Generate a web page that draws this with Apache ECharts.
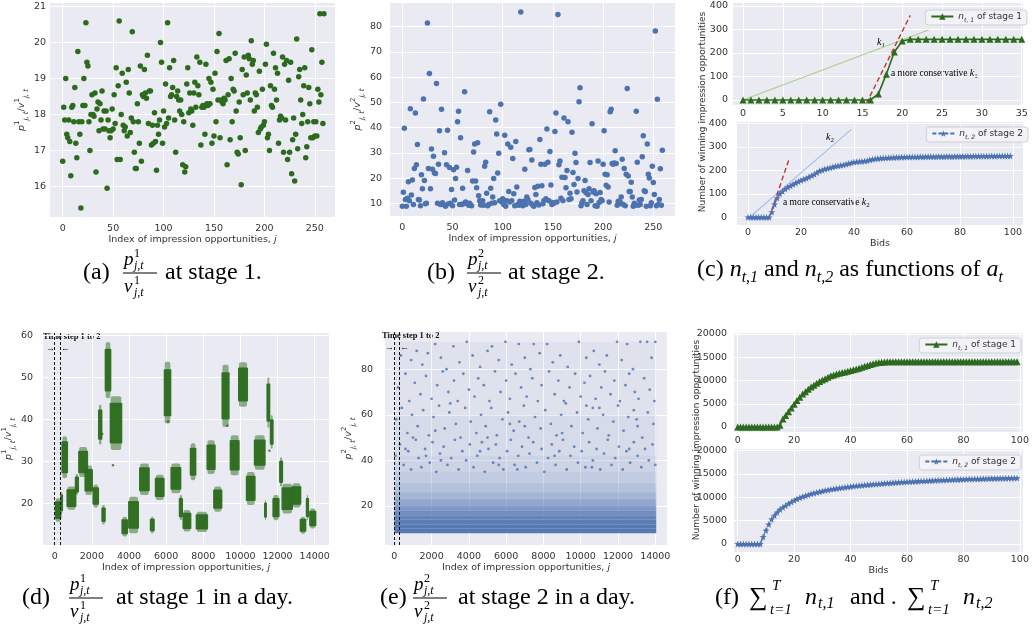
<!DOCTYPE html>
<html>
<head>
<meta charset="utf-8">
<title>winning impressions</title>
<style>
  html, body { margin: 0; padding: 0; background: #fff; }
  #chart { width: 1034px; height: 630px; }
</style>
<script src="https://cdn.jsdelivr.net/npm/echarts/dist/echarts.min.js"></script>
</head>
<body>
<div id="chart"></div>
<script>
// (a) p/v at stage 1, one value per impression index 0..259
const stage1Ratio = [
  16.7, 18.2, 17.85, 19.0, 17.45, 17.35, 17.85, 17.25, 16.3, 18.2,
  18.25, 17.8, 18.75, 17.2, 16.8, 19.75, 17.8, 17.45, 15.4, 17.8,
  18.25, 19.0, 18.25, 20.55, 19.45, 19.35, 17.8, 17.0, 18.0, 18.55,
  18.0, 17.95, 18.6, 16.4, 18.15, 18.35, 17.55, 18.3, 17.85, 18.65,
  17.6, 18.1, 17.6, 18.1, 15.95, 17.85, 17.55, 17.35, 17.55, 18.15,
  17.6, 18.55, 17.75, 19.3, 16.75, 18.8, 20.6, 16.75, 18.0, 19.15,
  17.7, 17.55, 17.65, 18.9, 17.4, 19.25, 18.6, 17.5, 17.9, 20.3,
  17.8, 16.95, 16.5, 16.5, 18.3, 17.8, 17.2, 19.35, 16.7, 18.55,
  18.5, 19.25, 18.6, 18.45, 19.65, 17.75, 18.65, 18.65, 17.15, 17.7,
  17.2, 18.05, 17.25, 16.45, 17.7, 17.45, 17.85, 20.0, 19.45, 17.2,
  18.1, 17.65, 18.85, 17.75, 20.55, 17.9, 19.3, 18.5, 18.55, 18.75,
  19.5, 17.85, 16.95, 18.5, 18.65, 18.4, 18.1, 18.4, 18.0, 16.6,
  17.8, 16.4, 16.55, 18.85, 19.3, 18.05, 18.6, 18.15, 18.1, 17.7,
  18.6, 18.9, 18.2, 19.6, 18.8, 18.55, 19.45, 17.15, 18.2, 18.25,
  18.2, 17.45, 19.4, 18.3, 18.25, 19.0, 18.3, 18.9, 17.2, 18.7,
  17.4, 19.15, 17.8, 19.75, 18.4, 20.25, 17.35, 18.4, 18.35, 18.3,
  18.45, 18.4, 19.5, 16.6, 18.55, 19.55, 17.3, 19.0, 17.8, 18.7,
  18.65, 19.7, 18.1, 16.95, 16.9, 18.35, 17.35, 16.05, 19.25, 18.55,
  19.6, 17.0, 19.1, 18.6, 19.65, 19.55, 18.4, 20.05, 19.4, 19.5,
  18.1, 18.6, 18.55, 18.2, 17.5, 19.2, 17.6, 17.65, 18.7, 17.7,
  17.8, 19.4, 19.95, 17.35, 17.45, 17.0, 18.8, 18.25, 18.2, 19.7,
  18.7, 19.3, 18.4, 19.15, 17.2, 17.85, 17.95, 17.9, 19.6, 16.95,
  19.4, 17.85, 19.5, 16.75, 18.95, 16.95, 19.45, 16.35, 17.3, 17.9,
  16.15, 17.45, 20.1, 17.05, 19.05, 19.25, 18.4, 17.75, 18.0, 18.8,
  19.3, 16.8, 17.1, 17.8, 18.75, 18.3, 17.35, 19.8, 17.35, 17.8,
  17.4, 17.8, 17.4, 18.7, 18.35, 20.8, 18.55, 19.45, 17.75, 20.8
];

// (b) p/v at stage 2
const stage2Ratio = [
  8.8, 14.4, 39.8, 11.5, 8.8, 12, 18.5, 11, 47.5, 13.3,
  19.2, 9.5, 23.8, 45.8, 25.3, 33.3, 11.5, 11.3, 9, 21.3,
  15.8, 51.3, 19, 9.8, 10, 81.5, 23.8, 61.5, 15.8, 31.5,
  23.5, 28.7, 22, 21.8, 57.5, 10, 25.5, 38.8, 9.5, 47.3,
  10.2, 9.5, 30, 8.8, 25.3, 39, 9.8, 24.2, 10, 15.5,
  9, 23.3, 11.3, 19.8, 24.3, 42.3, 46.5, 9.5, 36, 9.5,
  16, 9.8, 54.2, 10.5, 10, 23, 9.2, 10, 9.3, 9,
  18.8, 30.3, 33.5, 18.8, 16.2, 34, 13, 11, 9.3, 9.5,
  11, 9.2, 24.7, 26.3, 14, 9, 9.5, 46.3, 16, 10,
  12.5, 19.8, 10.2, 43, 37.5, 22, 29.8, 11, 49.3, 10.5,
  11.8, 9.5, 37, 8.8, 11, 33.5, 14.7, 10.5, 32.2, 11,
  27.8, 13.8, 9, 34.5, 16.5, 9.5, 9.2, 10.8, 85.8, 9.8,
  9, 10.8, 23.5, 9.5, 12.5, 11.5, 31.2, 31.3, 10, 27.2,
  9.2, 8.8, 16.3, 13.5, 10.2, 16.8, 9.3, 35.3, 25.5, 17,
  9.8, 11, 25.5, 11.8, 39.5, 26.3, 11, 30.5, 17.3, 9.5,
  10.3, 10, 38.5, 45.8, 10.5, 84.8, 25.3, 26.8, 12, 20.3,
  11, 43.8, 20.2, 16.2, 23, 42.3, 11.5, 14, 11.8, 38.2,
  22.2, 17.5, 29.8, 26.2, 14.5, 19.8, 50.3, 55.8, 9, 10.2,
  11, 15, 19, 14.2, 9.5, 13.5, 15.8, 26.2, 11, 41.5,
  14.5, 15, 9, 13.8, 8.8, 26.8, 10.3, 14.3, 11.5, 11,
  25.5, 38.8, 21.5, 17.2, 21.3, 16.5, 10.5, 46.3, 47.3, 25.8,
  25.5, 26, 30.8, 25.8, 9.2, 10.8, 9.8, 10.5, 12.5, 27.5,
  9.5, 23.8, 9, 21.5, 55.5, 20.8, 14.7, 14.7, 18.3, 12.5,
  8.8, 10, 9.2, 46.5, 26.3, 9.2, 11.3, 9.5, 11.5, 28.5,
  36.8, 15, 14.7, 8.8, 33.5, 21.5, 20, 9, 10.2, 24.7,
  18.2, 13.5, 78.3, 9, 51.2, 9.5, 11.5, 23.7, 9.2, 31
];

// (c) winning count vs bid (bid = index)
const winStage1 = [
  0, 0, 0, 0, 0, 0, 0, 0, 0, 0, 0, 0, 0, 0, 0, 0, 0, 26, 110, 204,
  251, 258, 258, 258, 258, 258, 258, 258, 258, 258, 258, 258, 258, 258, 258, 258
];
const winStage2 = [
  0, 0, 0, 0, 0, 0, 0, 0, 0, 22, 55, 82, 100, 110, 120, 128, 134, 140, 146, 152,
  157, 162, 166, 171, 177, 183, 190, 197, 201, 205, 208, 211, 214, 217, 219, 221, 223, 226, 229, 232,
  235, 236, 237, 238, 239, 241, 244, 247, 249, 250, 251, 252, 253, 253, 254, 254, 255, 255, 256, 256,
  257, 257, 257, 257, 257, 258, 257, 258, 258, 258, 258, 258, 259, 258, 258, 259, 259, 258, 259, 259,
  259, 259, 259, 260, 259, 260, 260, 260, 260, 260, 260, 260, 261, 260, 261, 261, 261, 261, 261, 261
];
const k1Guide = [[0, 0], [23.3, 298]];
const k1Steep = [[15.5, -14], [21, 360]];
const k2Guide = [[0.6, 0], [39, 374]];
const k2Steep = [[7.9, -4], [15.4, 244]];

// (d) stage 1 over a day: clusters of impressions (index range, value range)
const clusterStart = [0, 300, 360, 630, 1080, 1260, 1600, 2030, 2330, 2510,
  2690, 2960, 3590, 3950, 4540, 5120, 5390, 5870, 6230, 6680,
  6880, 7270, 7590, 8170, 8530, 8980, 9420, 9870, 10290, 10720,
  11270, 11400, 11580, 11720, 12080, 12210, 12750, 13190, 13520, 13700];
const clusterEnd = [360, 450, 720, 1170, 1310, 1800, 2060, 2390, 2570, 2750,
  3050, 3640, 3950, 4540, 5120, 5390, 5920, 6280, 6820, 6910,
  7360, 7630, 8260, 8670, 9030, 9420, 9960, 10410, 10820, 11360,
  11430, 11610, 11790, 12110, 12300, 12830, 13280, 13550, 13700, 14090];
const clusterLow = [15.6, 17.5, 26, 18.5, 22, 26.3, 22, 19, 34, 15,
  45, 32.7, 12.1, 12.9, 22, 12.9, 20.8, 39, 22.4, 16,
  13.3, 25.5, 13.2, 27, 18, 38.2, 26.7, 43, 19.6, 28,
  16, 38, 33, 16, 24, 17.6, 19, 12.8, 16, 14];
const clusterHigh = [21.2, 22.8, 36, 24, 27, 33.4, 29, 24.5, 43.5, 19.6,
  58.4, 45.5, 16.8, 21.6, 29.5, 16.8, 26.8, 53.7, 29.5, 22,
  18.4, 34.3, 18, 35, 24, 53, 36.2, 53.6, 27.5, 36.2,
  20.8, 50, 41, 22, 31, 24.7, 24.8, 16.8, 22, 18.8];
const dayStage1Strays = [[3140, 29.1], [2560, 36.5], [6100, 39.5], [11560, 32.5], [9300, 38.5]];
const timeStepMarks = [0, 280];

// (e) stage 2 over a day: dense floor (value bands with relative density) + sparse points
const denseRange = [0, 14050];
const densityLow = [8, 10, 12, 14, 16, 18, 20, 23, 26, 30, 35, 42, 60];
const densityHigh = [10, 12, 14, 16, 18, 20, 23, 26, 30, 35, 42, 60, 92];
const densityLevel = [0.96, 0.94, 0.9, 0.85, 0.78, 0.68, 0.56, 0.44, 0.34, 0.26, 0.19, 0.12, 0.065];
const dayStage2Sparse = [
  [350, 86], [900, 84], [1200, 88], [1500, 82], [1800, 87], [2190, 91], [2500, 85], [2800, 80], [3170, 90], [3500, 83],
  [3890, 92], [4200, 86], [4600, 81], [5000, 88], [5240, 90], [5600, 84], [5960, 92], [6300, 82], [6680, 91], [7000, 85],
  [7300, 80], [7480, 91], [7800, 87], [8200, 91], [8500, 83], [8900, 86], [9300, 81], [9900, 92], [10300, 85], [10700, 88],
  [11000, 82], [11400, 86], [11950, 92], [12200, 84], [12490, 91], [12800, 80], [13200, 92], [13560, 92], [13800, 85], [14000, 92],
  [200, 72], [600, 78], [800, 66], [1100, 74], [1400, 69], [1700, 77], [2000, 67], [2300, 73], [2600, 79], [2900, 70],
  [3200, 75], [3400, 66], [3700, 78], [4000, 71], [4300, 68], [4500, 76], [4800, 73], [5100, 66], [5400, 79], [5700, 70],
  [6000, 75], [6200, 67], [6500, 78], [6800, 72], [7100, 68], [7400, 76], [7700, 66], [7900, 73], [8300, 79], [8600, 69],
  [8800, 75], [9100, 66], [9400, 72], [9700, 78], [10000, 68], [10200, 74], [10500, 77], [10800, 67], [11100, 72], [11300, 79],
  [11600, 69], [11800, 75], [12100, 66], [12400, 73], [12600, 78], [12900, 70], [13100, 67], [13400, 76], [13700, 71], [13950, 66],
  [100, 58], [400, 63], [700, 52], [950, 60], [1250, 55], [1550, 62], [1850, 51], [2100, 59], [2400, 64], [2700, 54],
  [2950, 61], [3300, 56], [3550, 50], [3800, 63], [4100, 57], [4400, 52], [4650, 60], [4900, 55], [5200, 63], [5500, 51],
  [5800, 58], [6100, 61], [6400, 53], [6700, 57], [6950, 64], [7200, 50], [7550, 59], [7850, 54], [8100, 62], [8400, 56],
  [8700, 51], [8950, 60], [9200, 65], [9500, 55], [9800, 61], [10100, 52], [10400, 58], [10650, 63], [10900, 54], [11200, 60],
  [11500, 51], [11750, 57], [12000, 64], [12300, 53], [12550, 59], [12850, 62], [13050, 55], [13300, 50], [13600, 61], [13900, 56],
  [1000, 50], [3000, 65], [5000, 50], [7000, 55], [9000, 52], [11000, 63], [13000, 58], [2200, 53], [6200, 56], [10300, 64],
  [50, 42], [300, 47], [500, 38], [750, 44], [900, 36], [1150, 49], [1300, 41], [1450, 37], [1650, 45], [1900, 39],
  [2050, 48], [2250, 35], [2450, 43], [2650, 46], [2850, 38], [3050, 41], [3250, 49], [3450, 36], [3650, 44], [3850, 40],
  [4050, 47], [4250, 37], [4450, 42], [4700, 48], [4850, 35], [5050, 45], [5300, 39], [5450, 47], [5650, 41], [5850, 36],
  [6050, 44], [6250, 49], [6450, 38], [6650, 42], [6850, 46], [7050, 37], [7250, 43], [7450, 48], [7650, 39], [7900, 45],
  [8050, 35], [8250, 41], [8450, 47], [8650, 38], [8850, 44], [9050, 49], [9250, 36], [9450, 42], [9650, 46], [9850, 39],
  [10050, 44], [10250, 37], [10450, 48], [10650, 40], [10850, 45], [11050, 36], [11250, 43], [11450, 49], [11650, 38], [11850, 41],
  [12050, 46], [12250, 36], [12450, 44], [12650, 39], [12850, 48], [13050, 42], [13250, 37], [13450, 45], [13650, 40], [13850, 47],
  [14000, 38], [600, 45], [2500, 40], [4600, 44], [6600, 36], [8600, 42], [10600, 37], [12600, 45], [1700, 42], [5600, 38]
];

// (f) total winning count over the day vs bid (bid = index)
const totalStage1 = [
  0, 0, 0, 0, 0, 0, 0, 0, 0, 0, 0, 0, 0, 0, 0, 400, 1700, 2500, 3300, 4100,
  4900, 5700, 6400, 7100, 7600, 8100, 8600, 9000, 9400, 9800, 10100, 10400, 10700, 11000, 11200, 11400, 11550, 11700, 11850, 12000,
  12150, 12300, 12450, 12650, 12850, 13050, 13250, 13450, 13600, 13750, 13850, 13950, 14000, 14020, 14050, 14050, 14050, 14050, 14050, 14050,
  14050, 14050, 14050, 14050, 14050, 14050, 14050, 14050, 14050, 14050, 14050, 14050, 14050, 14050, 14050, 14050, 14050, 14050, 14050, 14050,
  14050, 14050, 14050, 14050, 14050, 14050, 14050, 14050, 14050, 14050, 14050, 14050, 14050, 14050, 14050, 14050, 14050, 14050, 14050, 14050
];
const totalStage2 = [
  0, 0, 0, 0, 0, 0, 0, 0, 0, 1500, 2900, 4200, 5300, 6100, 6800, 7400, 7850, 8250, 8650, 9000,
  9350, 9650, 9900, 10150, 10350, 10550, 10750, 10900, 11050, 11200, 11350, 11480, 11600, 11710, 11810, 11900, 11990, 12080, 12160, 12240,
  12320, 12390, 12460, 12520, 12580, 12640, 12700, 12750, 12800, 12850, 12900, 12950, 13000, 13040, 13080, 13130, 13170, 13210, 13250, 13290,
  13330, 13360, 13390, 13420, 13450, 13480, 13510, 13540, 13570, 13600, 13630, 13660, 13690, 13710, 13740, 13760, 13790, 13810, 13830, 13850,
  13870, 13890, 13910, 13930, 13950, 13960, 13980, 13990, 14010, 14020, 14040, 14050, 14060, 14080, 14090, 14100, 14110, 14120, 14130, 14140
];

const legendText = {
  c1: '{i|n}{s|t, 1}{n| of stage 1}',
  c2: '{i|n}{s|t, 2}{n| of stage 2}',
  f1: '{i|n}{s|t, 1}{n| of stage 1}',
  f2: '{i|n}{s|t, 2}{n| of stage 2}'
};

const GREEN = '#2c6b1d', BLUE = '#4c72b0', BG = '#eaeaf2', TICK = '#333333';
const SANS = 'DejaVu Sans', SERIF = 'Liberation Serif';
const STAR = 'path://M0,-10L2.35,-3.24L9.51,-3.09L3.8,1.24L5.88,8.09L0,4L-5.88,8.09L-3.8,1.24L-9.51,-3.09L-2.35,-3.24Z';

const mathRich = {
  n: { fontFamily: SANS, fontSize: 9.5, color: TICK, lineHeight: 16 },
  i: { fontFamily: SANS, fontSize: 9.5, fontStyle: 'italic', color: TICK, lineHeight: 16 },
  sp: { fontFamily: SANS, fontSize: 7, color: TICK, verticalAlign: 'top' },
  sb: { fontFamily: SANS, fontSize: 7, fontStyle: 'italic', color: TICK, verticalAlign: 'bottom' }
};
const indexName = '{n|Index of impression opportunities, }{i|j}';
const ratioName = k => '{i|p}{sp|' + k + '}{sb|j, t}{n|/}{i|v}{sp|' + k + '}{sb|j, t}';

function grid(left, top, width, height) {
  return { left, top, width, height, show: true, backgroundColor: BG, borderWidth: 0, containLabel: false };
}

function axis(gridIndex, min, max, splitNumber, margin, name, nameGap, isY) {
  return {
    type: 'value', gridIndex, min, max, splitNumber,
    axisLine: { show: false }, axisTick: { show: false },
    splitLine: { show: true, showMinLine: false, showMaxLine: false, lineStyle: { color: '#fff', width: 1 } },
    axisLabel: { color: TICK, fontFamily: SANS, fontSize: 9.5, margin, showMinLabel: false, showMaxLabel: false,
      formatter: v => String(v) },
    name: name || '', nameLocation: 'middle', nameGap: nameGap || 0, nameRotate: isY ? 90 : 0,
    nameTextStyle: { color: TICK, fontFamily: SANS, fontSize: 9.5, rich: mathRich }
  };
}

function legendAt(right, top, name) {
  return {
    data: [name], right, top, orient: 'horizontal',
    backgroundColor: 'rgba(242,242,247,0.92)', borderColor: '#cfcfd8', borderWidth: 1, borderRadius: 3,
    padding: [2, 5, 2, 5], itemWidth: 22, itemHeight: 8, itemGap: 4,
    textStyle: {
      color: TICK, fontFamily: SANS, fontSize: 9,
      rich: {
        i: { fontFamily: SANS, fontSize: 9, fontStyle: 'italic', color: TICK, lineHeight: 13 },
        s: { fontFamily: SANS, fontSize: 6, fontStyle: 'italic', color: TICK, verticalAlign: 'bottom' },
        n: { fontFamily: SANS, fontSize: 9, color: TICK }
      }
    },
    formatter: n => legendText[n]
  };
}

function guide(xi, data, color, dashed, width) {
  return {
    type: 'line', xAxisIndex: xi, yAxisIndex: xi, data, symbol: 'none', silent: true, z: 1,
    lineStyle: { color, width: width || 1, type: dashed ? [5, 3] : 'solid' }
  };
}

function drawCluster(params, api) {
  const x0 = api.value(0), x1 = api.value(1), lo = api.value(2), hi = api.value(3);
  const a = api.coord([x0, hi]), b = api.coord([x1, lo]);
  const pad = (hi - lo) * 0.12;
  const c = api.coord([x0, hi - pad]), d = api.coord([x1, lo + pad]);
  return {
    type: 'group', children: [
      { type: 'rect', shape: { x: a[0] + 1, y: a[1], width: Math.max(b[0] - a[0] - 2, 1), height: b[1] - a[1], r: 2 }, style: { fill: GREEN, opacity: 0.5 } },
      { type: 'rect', shape: { x: c[0], y: c[1], width: d[0] - c[0], height: d[1] - c[1], r: 1 }, style: { fill: GREEN, opacity: 0.95 } }
    ]
  };
}

function drawDensity(params, api) {
  const a = api.coord([api.value(0), api.value(3)]), b = api.coord([api.value(1), api.value(2)]);
  return { type: 'rect', shape: { x: a[0], y: a[1], width: b[0] - a[0], height: b[1] - a[1] }, style: { fill: BLUE, opacity: api.value(4) } };
}

const timeLines = {
  symbol: 'none', silent: true, label: { show: false },
  lineStyle: { color: '#111', type: [3, 2], width: 1 },
  data: timeStepMarks.map(v => ({ xAxis: v }))
};

// caption helpers
function txt(x, y, text, size, extra) {
  return {
    type: 'text', x, y, silent: true,
    style: Object.assign({ text, fill: '#000', font: size + 'px "' + SERIF + '"', textAlign: 'left', textVerticalAlign: 'middle' }, extra || {})
  };
}
function itxt(x, y, text, size) {
  return txt(x, y, text, size, { font: 'italic ' + size + 'px "' + SERIF + '"' });
}
function fraction(x, y, top, bottom, sup) {
  return [
    itxt(x, y - 13, top, 19), txt(x + 10, y - 19, sup, 12), itxt(x + 10, y - 7, 'j,t', 12),
    { type: 'line', silent: true, shape: { x1: x - 1, y1: y, x2: x + 33, y2: y }, style: { stroke: '#000', lineWidth: 1 } },
    itxt(x, y + 14, bottom, 19), txt(x + 10, y + 8, sup, 12), itxt(x + 10, y + 20, 'j,t', 12)
  ];
}
function sumBlock(x, y) {
  return [txt(x, y, '\u2211', 26), itxt(x + 23, y - 12, 'T', 15), itxt(x + 21, y + 12, 't=1', 15)];
}
const capRich = {
  t: { fontFamily: SERIF, fontSize: 24, lineHeight: 32, color: '#000' },
  m: { fontFamily: SERIF, fontSize: 24, fontStyle: 'italic', lineHeight: 32, color: '#000' },
  s: { fontFamily: SERIF, fontSize: 16, fontStyle: 'italic', color: '#000', verticalAlign: 'bottom' }
};
const smallRich = {
  t: { fontFamily: SERIF, fontSize: 9.5, color: '#111', lineHeight: 14 },
  i: { fontFamily: SERIF, fontSize: 10, fontStyle: 'italic', color: '#111', lineHeight: 14 },
  s: { fontFamily: SERIF, fontSize: 7, color: '#111', verticalAlign: 'bottom' }
};
function note(x, y, text, align) {
  return { type: 'text', x, y, silent: true, style: { text, rich: smallRich, textAlign: align || 'left', textVerticalAlign: 'middle' } };
}

const graphics = [].concat(
  // shared y titles for (c) and (f)
  [
    { type: 'text', x: 703, y: 112, rotation: Math.PI / 2, silent: true,
      style: { text: 'Number of winning impression opportunities', fill: TICK, font: '9px "' + SANS + '"', textAlign: 'center', textVerticalAlign: 'middle' } },
    { type: 'text', x: 697, y: 440, rotation: Math.PI / 2, silent: true,
      style: { text: 'Number of winning impression opportunities', fill: TICK, font: '9px "' + SANS + '"', textAlign: 'center', textVerticalAlign: 'middle' } }
  ],
  // annotations in (c)
  [
    note(877, 42, '{i|k}{s|1}'),
    note(891, 73, '{t|a more conservative }{i|k}{s|1}'),
    note(826, 137, '{i|k}{s|2}'),
    note(783, 202, '{t|a more conservative }{i|k}{s|2}')
  ],
  // time step notes in (d) and (e)
  [
    txt(43, 337, 'Time step 1 to 2', 8.5, { fill: '#111', font: 'bold 8.5px "' + SERIF + '"' }),
    txt(46, 349, '\u2192', 9, { fill: '#111' }), txt(61, 349, '\u2190', 9, { fill: '#111' }),
    txt(382, 336, 'Time step 1 to 2', 8.5, { fill: '#111', font: 'bold 8.5px "' + SERIF + '"' }),
    txt(385, 348, '\u2192', 9, { fill: '#111' }), txt(400, 348, '\u2190', 9, { fill: '#111' })
  ],
  // captions
  [txt(83, 273, '(a)', 24)], fraction(124, 273, 'p', 'v', '1'), [txt(165, 273, 'at stage 1.', 24)],
  [txt(427, 273, '(b)', 24)], fraction(468, 273, 'p', 'v', '2'), [txt(508, 273, 'at stage 2.', 24)],
  [{ type: 'text', x: 697, y: 270, silent: true,
     style: { text: '{t|(c) }{m|n}{s|t,1}{t| and }{m|n}{s|t,2}{t| as functions of }{m|a}{s|t}', rich: capRich, textAlign: 'left', textVerticalAlign: 'middle' } }],
  [txt(22, 598, '(d)', 24)], fraction(70, 598, 'p', 'v', '1'), [txt(116, 598, 'at stage 1 in a day.', 24)],
  [txt(380, 598, '(e)', 24)], fraction(414, 598, 'p', 'v', '2'), [txt(458, 598, 'at stage 2 in a day.', 24)],
  [txt(715, 598, '(f)', 24)], sumBlock(749, 598), [itxt(805, 598, 'n', 24), itxt(818, 604, 't,1', 16), txt(850, 598, 'and .', 24)],
  sumBlock(907, 598), [itxt(963, 598, 'n', 24), itxt(976, 604, 't,2', 16)]
);

const option = {
  animation: false,
  backgroundColor: '#ffffff',
  grid: [
    grid(50, 3, 285, 214),
    grid(390, 3, 285, 213),
    grid(733, 3, 290, 102),
    grid(737, 122, 286, 103),
    grid(43, 333, 286, 212),
    grid(385, 332, 282, 213),
    grid(734, 333, 289, 99),
    grid(734, 449, 289, 103)
  ],
  xAxis: [
    axis(0, -12.6, 270, 5, 7, indexName, 15),
    axis(1, -12.3, 271.6, 5, 7, indexName, 15),
    axis(2, -1.256, 35.16, 7, 4),
    axis(3, -4.15, 103.8, 5, 3, 'Bids', 11),
    axis(4, -630, 14770, 7, 7, indexName, 15),
    axis(5, -500, 14628, 7, 7, indexName, 15),
    axis(6, -1.31, 101.1, 5, 4),
    axis(7, -1.31, 101.1, 5, 3, 'Bids', 11)
  ],
  yAxis: [
    axis(0, 15.15, 21.1, 5, 4, ratioName(1), 20, true),
    axis(1, 4.97, 89.4, 8, 8, ratioName(2), 17, true),
    axis(2, -21.3, 412.8, 4, 5, '', 0, true),
    axis(3, -32.8, 405.5, 4, 10, '', 0, true),
    axis(4, 10.1, 60.55, 5, 10, ratioName(1), 18, true),
    axis(5, 2.9, 96.3, 5, 12, ratioName(2), 22, true),
    axis(6, -1075, 20215, 4, 7, '', 0, true),
    axis(7, -1715, 20364, 4, 7, '', 0, true)
  ],
  legend: [
    legendAt(7, 10, 'c1'),
    legendAt(6, 127, 'c2'),
    legendAt(13, 338, 'f1'),
    legendAt(13, 455, 'f2')
  ],
  graphic: { elements: graphics },
  series: [
    { type: 'scatter', xAxisIndex: 0, yAxisIndex: 0, symbolSize: 5.5, itemStyle: { color: GREEN, opacity: 1 },
      data: stage1Ratio.map((v, i) => [i, v]) },
    { type: 'scatter', xAxisIndex: 1, yAxisIndex: 1, symbolSize: 5.5, itemStyle: { color: BLUE, opacity: 1 },
      data: stage2Ratio.map((v, i) => [i, v]) },

    guide(2, k1Guide, '#a8d08c', false, 1.2),
    guide(2, k1Steep, '#c8302a', true, 1.4),
    { name: 'c1', type: 'line', xAxisIndex: 2, yAxisIndex: 2, z: 3, symbol: 'triangle', symbolSize: 7,
      lineStyle: { color: GREEN, width: 1.6 }, itemStyle: { color: GREEN },
      data: winStage1.map((v, i) => [i, v]) },

    guide(3, k2Guide, '#a4c2ea', false, 1.2),
    guide(3, k2Steep, '#c8302a', true, 1.4),
    { name: 'c2', type: 'line', xAxisIndex: 3, yAxisIndex: 3, z: 3, symbol: STAR, symbolSize: 7,
      lineStyle: { color: BLUE, width: 1.5, type: [4, 2] }, itemStyle: { color: BLUE },
      data: winStage2.map((v, i) => [i, v]) },

    { type: 'custom', xAxisIndex: 4, yAxisIndex: 4, renderItem: drawCluster, clip: true,
      encode: { x: [0, 1], y: [2, 3] },
      data: clusterStart.map((s, i) => [s, clusterEnd[i], clusterLow[i], clusterHigh[i]]) },
    { type: 'scatter', xAxisIndex: 4, yAxisIndex: 4, symbolSize: 2.5, itemStyle: { color: GREEN },
      data: dayStage1Strays, markLine: timeLines },

    { type: 'custom', xAxisIndex: 5, yAxisIndex: 5, renderItem: drawDensity, clip: true,
      encode: { x: [0, 1], y: [2, 3] },
      data: densityLow.map((lo, i) => [denseRange[0], denseRange[1], lo, densityHigh[i], densityLevel[i]]) },
    { type: 'scatter', xAxisIndex: 5, yAxisIndex: 5, symbolSize: 2.8, itemStyle: { color: BLUE },
      data: dayStage2Sparse, markLine: timeLines },

    { name: 'f1', type: 'line', xAxisIndex: 6, yAxisIndex: 6, symbol: 'triangle', symbolSize: 7,
      lineStyle: { color: GREEN, width: 1.6 }, itemStyle: { color: GREEN },
      data: totalStage1.map((v, i) => [i, v]) },
    { name: 'f2', type: 'line', xAxisIndex: 7, yAxisIndex: 7, symbol: STAR, symbolSize: 7,
      lineStyle: { color: BLUE, width: 1.5, type: [4, 2] }, itemStyle: { color: BLUE },
      data: totalStage2.map((v, i) => [i, v]) }
  ]
};

const chart = echarts.init(document.getElementById('chart'), null, { renderer: 'canvas' });
chart.setOption(option);
</script>
</body>
</html>
